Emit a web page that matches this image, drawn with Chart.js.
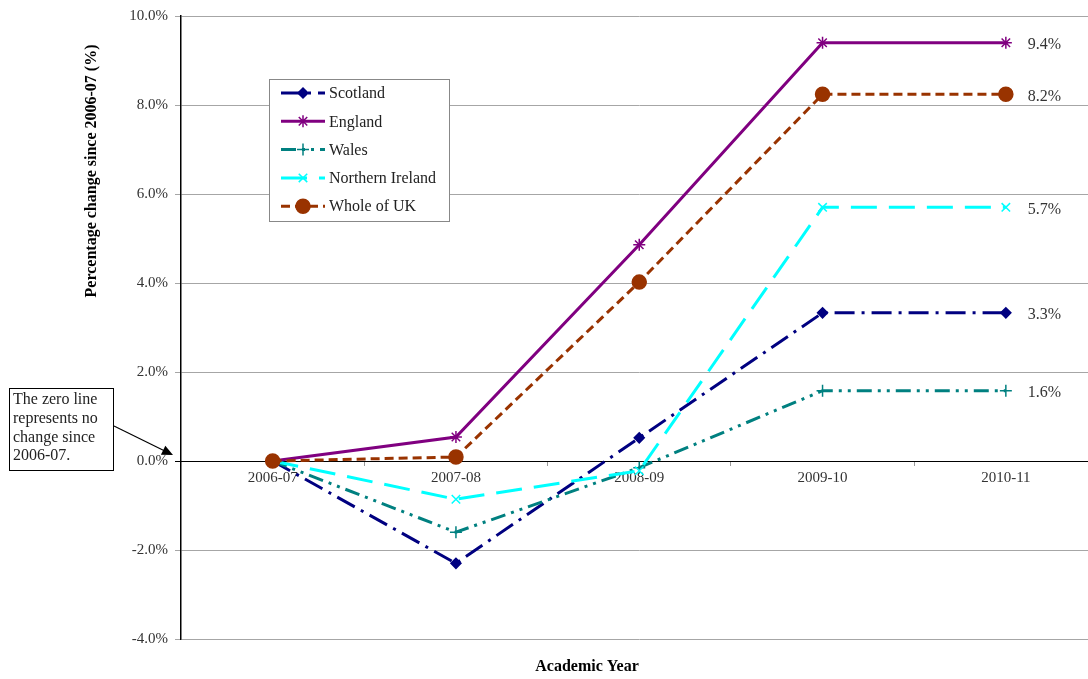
<!DOCTYPE html>
<html>
<head>
<meta charset="utf-8">
<script src="https://cdn.jsdelivr.net/npm/chart.js@4.4.1/dist/chart.umd.min.js"></script>
<style>
  html, body { margin: 0; padding: 0; background: #fff; overflow: hidden; }
  canvas { display: block; }
</style>
</head>
<body>
<canvas id="changeChart" width="1106" height="679"></canvas>
<script>
// data (% change since 2006-07)
const years = ['2006-07', '2007-08', '2008-09', '2009-10', '2010-11'];
const scotland = [0, -2.30, 0.52, 3.33, 3.33];
const england = [0, 0.54, 4.86, 9.40, 9.40];
const wales = [0, -1.60, -0.15, 1.58, 1.58];
const northernIreland = [0, -0.86, -0.22, 5.70, 5.70];
const wholeUK = [0, 0.09, 4.02, 8.24, 8.24];
const yTicks = [-4, -2, 0, 2, 4, 6, 8, 10];

const serif = "'Liberation Serif', 'DejaVu Serif', serif";
Chart.defaults.font.family = serif;
Chart.defaults.font.size = 16;
Chart.defaults.color = '#333';

// legend, axis titles, end labels and the zero-line note
const extras = {
    id: 'extras',
    afterDraw(chart) {
        const ctx = chart.ctx;
        const yScale = chart.scales.y;
        const area = chart.chartArea;
        ctx.save();

        // end-of-line value labels
        ctx.font = '16px ' + serif;
        ctx.fillStyle = '#333';
        ctx.textAlign = 'left';
        ctx.textBaseline = 'middle';
        chart.data.datasets.forEach((ds, i) => {
            const pts = chart.getDatasetMeta(i).data;
            const last = pts[pts.length - 1];
            const v = ds.data[ds.data.length - 1];
            ctx.fillText(v.toFixed(1) + '%', last.x + 22, last.y + 2);
        });

        // axis titles
        ctx.font = 'bold 16px ' + serif;
        ctx.fillStyle = '#000';
        ctx.textAlign = 'center';
        ctx.fillText('Academic Year', 587, 667);
        ctx.save();
        ctx.translate(92, 171);
        ctx.rotate(-Math.PI / 2);
        ctx.fillText('Percentage change since 2006-07 (%)', 0, 0);
        ctx.restore();

        // legend box
        const lx = 269, ly = 79, lw = 180, lh = 142;
        ctx.fillStyle = '#fff';
        ctx.fillRect(lx, ly, lw, lh);
        ctx.strokeStyle = '#888';
        ctx.lineWidth = 1;
        ctx.strokeRect(lx + 0.5, ly + 0.5, lw, lh);
        ctx.font = '16px ' + serif;
        ctx.textAlign = 'left';
        chart.data.datasets.forEach((ds, i) => {
            const cy = ly + 14 + i * 28.3;
            ctx.save();
            ctx.strokeStyle = ds.borderColor;
            ctx.lineWidth = ds.borderWidth;
            ctx.setLineDash(ds.borderDash || []);
            ctx.beginPath();
            ctx.moveTo(lx + 12, cy);
            ctx.lineTo(lx + 56, cy);
            ctx.stroke();
            ctx.setLineDash([]);
            ctx.fillStyle = ds.pointBackgroundColor;
            ctx.strokeStyle = ds.borderColor;
            ctx.lineWidth = ds.pointBorderWidth;
            Chart.helpers.drawPoint(ctx, {
                pointStyle: ds.pointStyle,
                radius: ds.pointRadius,
                rotation: 0,
                borderWidth: ds.pointBorderWidth
            }, lx + 34, cy);
            ctx.restore();
            ctx.fillStyle = '#222';
            ctx.fillText(ds.label, lx + 60, cy + 1);
        });

        // note box with arrow to the zero line
        const zeroY = yScale.getPixelForValue(0);
        ctx.fillStyle = '#fff';
        ctx.fillRect(9, 388, 104, 82);
        ctx.strokeStyle = '#000';
        ctx.strokeRect(9.5, 388.5, 104, 82);
        ctx.fillStyle = '#222';
        ['The zero line', 'represents no', 'change since', '2006-07.'].forEach((t, i) => {
            ctx.fillText(t, 13, 400 + i * 18.7);
        });
        const tipX = area.left - 8, tipY = zeroY - 6;
        const ang = Math.atan2(tipY - 426, tipX - 114);
        ctx.beginPath();
        ctx.moveTo(114, 426);
        ctx.lineTo(tipX - 8 * Math.cos(ang), tipY - 8 * Math.sin(ang));
        ctx.lineWidth = 1.2;
        ctx.stroke();
        ctx.beginPath();
        ctx.moveTo(tipX, tipY);
        ctx.lineTo(tipX - 11 * Math.cos(ang) + 5 * Math.sin(ang), tipY - 11 * Math.sin(ang) - 5 * Math.cos(ang));
        ctx.lineTo(tipX - 11 * Math.cos(ang) - 5 * Math.sin(ang), tipY - 11 * Math.sin(ang) + 5 * Math.cos(ang));
        ctx.closePath();
        ctx.fillStyle = '#000';
        ctx.fill();

        ctx.restore();
    }
};

function series(label, data, color, dash, style, radius, order) {
    return {
        label: label,
        data: data,
        borderColor: color,
        backgroundColor: color,
        pointBackgroundColor: color,
        pointBorderColor: color,
        borderWidth: 3,
        borderDash: dash,
        pointStyle: style,
        pointRadius: radius,
        pointBorderWidth: 1.5,
        tension: 0,
        fill: false,
        order: order
    };
}

const chart = new Chart(document.getElementById('changeChart').getContext('2d'), {
    type: 'line',
    data: {
        labels: years,
        datasets: [
            series('Scotland', scotland, '#000080', [20, 7, 3, 7], 'rectRot', 5, 4),
            series('England', england, '#800080', [], 'star', 6, 3),
            series('Wales', wales, '#008080', [15, 6, 3, 6, 3, 6], 'cross', 6, 2),
            series('Northern Ireland', northernIreland, '#00FFFF', [26, 12], 'crossRot', 6, 1),
            series('Whole of UK', wholeUK, '#993300', [9, 5], 'circle', 7, 0)
        ]
    },
    options: {
        responsive: false,
        animation: false,
        layout: { padding: { left: 0, top: 15, right: 0, bottom: 40 } },
        plugins: {
            legend: { display: false },
            tooltip: { enabled: false }
        },
        scales: {
            x: {
                type: 'category',
                position: { y: 0 },
                offset: true,
                grid: {
                    offset: true,
                    drawOnChartArea: false,
                    drawTicks: true,
                    tickLength: 4,
                    color: '#999'
                },
                border: { display: true, color: '#000', width: 1 },
                ticks: { padding: 4, color: '#333', font: { size: 15 }, maxRotation: 0 }
            },
            y: {
                min: -4,
                max: 10,
                afterBuildTicks: s => { s.ticks = yTicks.map(v => ({ value: v })); },
                afterFit: s => { s.width = 181; },
                grid: {
                    color: c => (c.tick && c.tick.value === 0) ? '#000' : '#a6a6a6',
                    tickLength: 6,
                    drawTicks: true
                },
                border: { display: true, color: '#000', width: 1.5 },
                ticks: {
                    padding: 7,
                    color: '#333',
                    font: { size: 15 },
                    callback: v => v.toFixed(1) + '%'
                }
            }
        }
    },
    plugins: [extras]
});
</script>
</body>
</html>
